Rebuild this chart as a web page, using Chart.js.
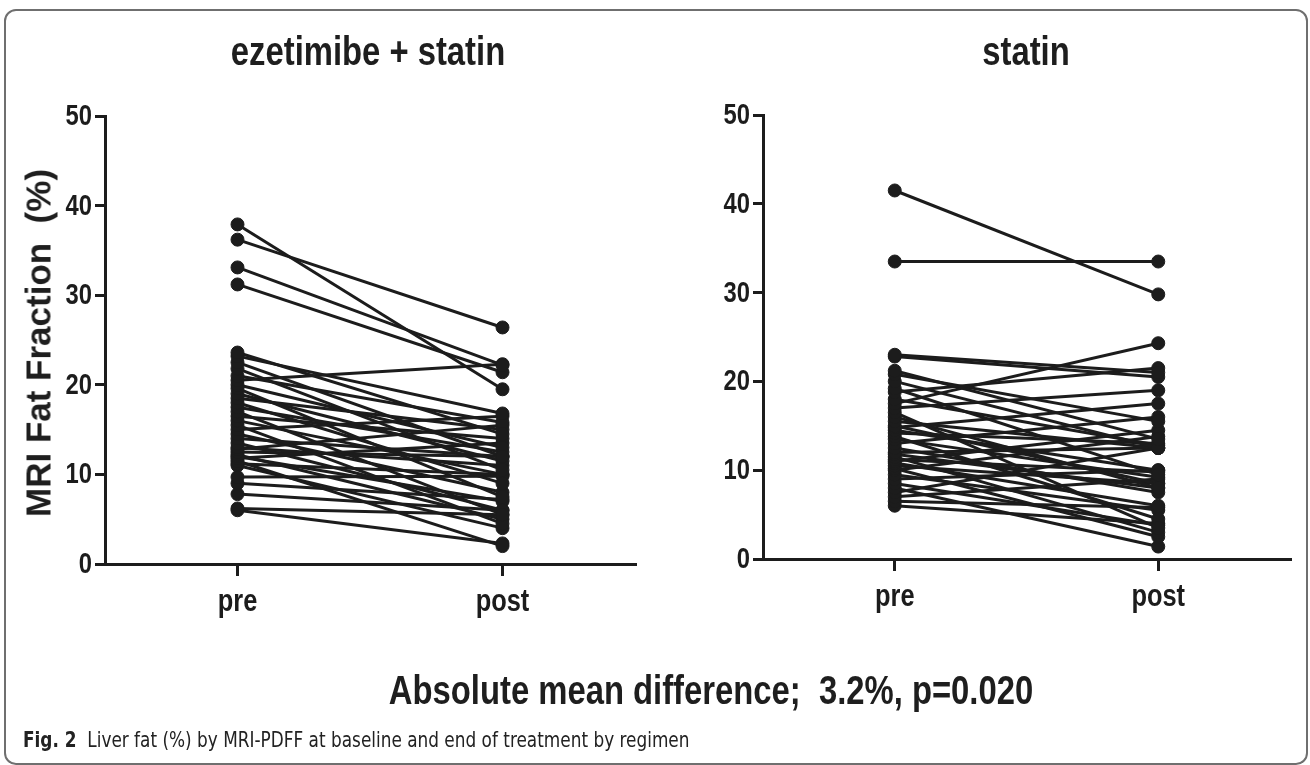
<!DOCTYPE html>
<html>
<head>
<meta charset="utf-8">
<script src="https://cdn.jsdelivr.net/npm/chart.js@4"></script>
<style>
  html, body { margin:0; padding:0; background:#fff; }
  body { width:1310px; height:765px; position:relative; overflow:hidden; }
  .arialb { font-family: 'Liberation Sans', Arial, sans-serif; font-weight:bold; }
  .abs { position:absolute; white-space:nowrap; line-height:1; color:#1e1e1e; }
  .nar { transform: translateX(-50%) scaleX(0.82); }
  #frame { position:absolute; left:4px; top:9px; width:1300px; height:752px; border:2px solid #6f6f6f; border-radius:12px; }
  #c1 { position:absolute; left:0; top:0; }
  #c2 { position:absolute; left:700px; top:0; }
</style>
</head>
<body>
<div id="frame"></div>
<canvas id="c1" width="700" height="765" style="width:700px;height:765px"></canvas>
<canvas id="c2" width="610" height="765" style="width:610px;height:765px"></canvas>
<div class="abs arialb nar" id="t1" style="font-size:40px;top:31px;left:368px">ezetimibe + statin</div>
<div class="abs arialb nar" id="t2" style="font-size:40px;top:31px;left:1026px">statin</div>
<div class="abs arialb" id="ylab" style="font-size:35px;left:38px;top:343px;transform:translate(-50%,-50%) rotate(-90deg)">MRI Fat Fraction&nbsp; (%)</div>
<div class="abs arialb nar" id="note" style="font-size:40px;top:670px;left:711px">Absolute mean difference;&nbsp; 3.2%, p=0.020</div>
<div class="abs" id="cap" style="font-family:'DejaVu Sans Condensed','DejaVu Sans',sans-serif;font-size:21px;top:730px;left:23px;color:#222;transform:scaleX(0.895);transform-origin:0 50%"><b>Fig. 2</b>&nbsp; Liver fat (%) by MRI-PDFF at baseline and end of treatment by regimen</div>
<script>
// ---- data ----
const categories = ['pre', 'post'];
const yTicks = [0, 10, 20, 30, 40, 50];
const titles = ['ezetimibe + statin', 'statin'];

// ezetimibe + statin: liver fat % per patient
const ezePre  = [37.9, 36.2, 33.1, 31.2, 23.6, 23.2, 22.5, 21.8, 21.0, 20.5, 20.0, 19.6, 19.0, 18.5, 18.0, 17.5, 17.0, 16.5, 16.0, 15.5, 15.0, 14.5, 14.0, 13.5, 13.0, 12.8, 12.5, 12.2, 12.0, 11.8, 11.5, 11.2, 11.0, 9.7, 9.0, 7.8, 6.2, 6.0];
const ezePost = [19.5, 26.4, 22.2, 21.4, 14.5, 16.8, 12.0, 10.5, 15.8, 22.3, 13.0, 7.5, 11.5, 15.0, 9.0, 12.5, 5.5, 14.0, 10.0, 4.5, 16.5, 8.0, 12.0, 6.0, 11.0, 15.5, 12.0, 5.0, 7.0, 13.5, 2.0, 10.0, 4.0, 9.8, 7.2, 6.0, 5.5, 2.3];

// statin only
const statPre  = [41.5, 33.5, 23.0, 22.8, 21.2, 20.8, 20.0, 19.2, 18.8, 18.0, 17.5, 17.0, 16.5, 16.0, 15.5, 15.0, 14.8, 14.5, 14.2, 13.8, 13.5, 13.0, 12.5, 12.0, 11.8, 11.5, 11.2, 11.0, 10.8, 10.5, 10.2, 10.0, 9.5, 9.0, 8.5, 8.0, 7.5, 7.0, 6.5, 6.0];
const statPost = [29.8, 33.5, 21.0, 20.5, 13.5, 15.5, 12.5, 9.5, 21.5, 12.8, 24.3, 19.0, 3.5, 8.0, 12.5, 8.5, 17.5, 10.0, 13.0, 4.5, 9.2, 16.0, 7.5, 12.5, 8.0, 3.0, 9.8, 14.5, 6.0, 8.5, 2.5, 13.8, 5.5, 10.0, 3.8, 1.4, 12.5, 9.0, 5.8, 4.0];

// ---- styles ----
const INK = '#1c1c1c';
const TICK_FONT = "'Liberation Sans', Arial, sans-serif";
const SQUEEZE = 0.82; // Arial Narrow look

function makeDatasets(pre, post) {
  return pre.map((v, i) => ({
    data: [{x: 0, y: v}, {x: 1, y: post[i]}],
    borderColor: INK,
    backgroundColor: INK,
    borderWidth: 3,
    pointRadius: 6.5,
    pointBorderWidth: 1,
    pointBackgroundColor: INK,
    pointBorderColor: INK,
    tension: 0
  }));
}

// draws the scales' tick labels in a condensed bold face, at the scales' own tick pixels
const narrowTickLabels = {
  id: 'narrowTickLabels',
  afterDraw(chart) {
    const ctx = chart.ctx;
    const ys = chart.scales.y, xs = chart.scales.x;
    ctx.save();
    ctx.fillStyle = INK;
    ctx.font = 'bold 29px ' + TICK_FONT;
    ctx.textAlign = 'right';
    ctx.textBaseline = 'middle';
    ys.ticks.forEach(t => {
      ctx.save();
      ctx.translate(ys.right - 13, ys.getPixelForValue(t.value) + 1);
      ctx.scale(SQUEEZE, 1);
      ctx.fillText(String(t.value), 0, 0);
      ctx.restore();
    });
    ctx.font = 'bold 31px ' + TICK_FONT;
    ctx.textAlign = 'center';
    ctx.textBaseline = 'alphabetic';
    xs.ticks.forEach(t => {
      ctx.save();
      ctx.translate(xs.getPixelForValue(t.value), xs.top + 47);
      ctx.scale(SQUEEZE, 1);
      ctx.fillText(categories[t.value], 0, 0);
      ctx.restore();
    });
    ctx.restore();
  }
};

function makeChart(id, pre, post, padding) {
  return new Chart(document.getElementById(id), {
    type: 'line',
    data: { datasets: makeDatasets(pre, post) },
    plugins: [narrowTickLabels],
    options: {
      responsive: false,
      animation: false,
      events: [],
      layout: { padding: padding },
      plugins: { legend: { display: false }, tooltip: { enabled: false }, title: { display: false } },
      scales: {
        x: {
          type: 'linear',
          min: -0.5, max: 1.5,
          afterBuildTicks: (s) => { s.ticks = categories.map((c, i) => ({ value: i })); },
          afterFit: (s) => { s.height = 60; },
          ticks: { display: false },
          grid: { drawOnChartArea: false, drawTicks: true, tickLength: 12, color: INK, lineWidth: 3 },
          border: { display: true, color: INK, width: 3 }
        },
        y: {
          type: 'linear',
          min: 0, max: 50,
          afterBuildTicks: (s) => { s.ticks = yTicks.map(v => ({ value: v })); },
          afterFit: (s) => { s.width = 50; },
          ticks: { display: false },
          grid: { drawOnChartArea: false, drawTicks: true, tickLength: 10, color: INK, lineWidth: 3 },
          border: { display: true, color: INK, width: 3 }
        }
      }
    }
  });
}

makeChart('c1', ezePre, ezePost, { left: 55, top: 116, right: 65, bottom: 141 });
makeChart('c2', statPre, statPost, { left: 13, top: 115, right: 20, bottom: 146 });
</script>
</body>
</html>
